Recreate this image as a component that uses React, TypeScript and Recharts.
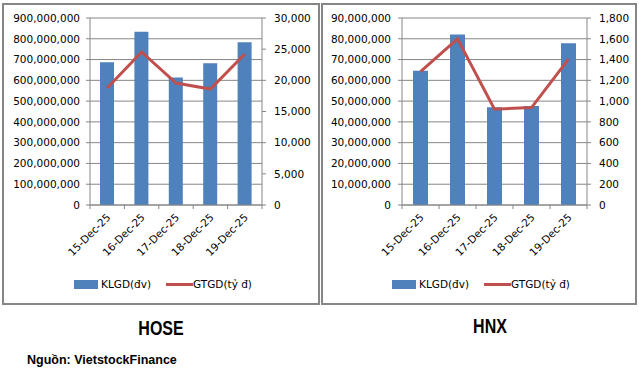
import React from 'react';
import { ComposedChart, Bar, Line, XAxis, YAxis, CartesianGrid, Legend } from 'recharts';

const dates = ['15-Dec-25', '16-Dec-25', '17-Dec-25', '18-Dec-25', '19-Dec-25'];

const hoseVolume = [687000000, 834000000, 614000000, 682000000, 783000000];
const hoseValue = [18760, 24550, 19560, 18600, 24230];

const hnxVolume = [64600000, 82000000, 47100000, 47600000, 77800000];
const hnxValue = [1285, 1600, 922, 938, 1405];

const hoseVolumeTicks = [0, 100000000, 200000000, 300000000, 400000000, 500000000, 600000000, 700000000, 800000000, 900000000];
const hoseValueTicks = [0, 5000, 10000, 15000, 20000, 25000, 30000];
const hnxVolumeTicks = [0, 10000000, 20000000, 30000000, 40000000, 50000000, 60000000, 70000000, 80000000, 90000000];
const hnxValueTicks = [0, 200, 400, 600, 800, 1000, 1200, 1400, 1600, 1800];

const BLUE = '#4f81bd';
const RED = '#c0504d';
const AXIS = '#868686';
const FONT = '"DejaVu Sans", sans-serif';

const fmt = (v: number) => v.toLocaleString('en-US');

const DateTick = (props: any) => {
  const { x, y, payload, width, visibleTicksCount, index } = props;
  const half = payload.offset || width / visibleTicksCount / 2;
  return (
    <g>
      <line x1={x - half} x2={x - half} y1={y} y2={y + 4} stroke={AXIS} />
      {index === visibleTicksCount - 1 && (
        <line x1={x + half} x2={x + half} y1={y} y2={y + 4} stroke={AXIS} />
      )}
      <text
        x={x + 4}
        y={y + 13}
        transform={`rotate(-45 ${x + 4} ${y + 13})`}
        textAnchor="end"
        fontSize={10.5}
        fontFamily={FONT}
        fill="#000"
      >
        {payload.value}
      </text>
    </g>
  );
};

// excel puts the bar entry first
const LegendContent = (props: any) => {
  const items = [...(props.payload || [])].sort((a: any, b: any) => (a.type === 'line' ? 1 : 0) - (b.type === 'line' ? 1 : 0));
  return (
    <div style={{ display: 'flex', justifyContent: 'center', alignItems: 'center', fontFamily: FONT, fontSize: 10.5, color: '#000', paddingLeft: 4 }}>
      {items.map((entry: any, i: number) => (
        <div key={i} style={{ display: 'flex', alignItems: 'center', marginRight: i === 0 ? 15 : 0 }}>
          {entry.type === 'line' ? (
            <span style={{ display: 'inline-block', width: 27, height: 3, background: RED }} />
          ) : (
            <span style={{ display: 'inline-block', width: 24, height: 9, background: BLUE, marginRight: 3 }} />
          )}
          <span>{entry.value}</span>
        </div>
      ))}
    </div>
  );
};

interface PanelProps {
  left: number;
  width: number;
  volume: number[];
  value: number[];
  volumeTicks: number[];
  valueTicks: number[];
  leftWidth: number;
  rightWidth: number;
  leftMargin: number;
  barSize: number;
}

const Panel: React.FC<PanelProps> = ({ left, width, volume, value, volumeTicks, valueTicks, leftWidth, rightWidth, leftMargin, barSize }) => {
  const data = dates.map((d, i) => ({ date: d, volume: volume[i], value: value[i] }));
  const tickStyle = { fontSize: 10.5, fontFamily: FONT, fill: '#000' };
  return (
    <div style={{ position: 'absolute', left, top: 3, width, height: 302 }}>
      <ComposedChart width={width} height={302} data={data} margin={{ top: 15, right: 0, bottom: 0, left: 0 }} barGap={0}>
        <CartesianGrid yAxisId="left" vertical={false} stroke={AXIS} />
        <XAxis dataKey="date" height={100} tickLine={false} tickSize={0} tickMargin={0} interval={0} axisLine={{ stroke: AXIS }} tick={<DateTick />} />
        <YAxis
          yAxisId="left"
          width={leftWidth}
          domain={[volumeTicks[0], volumeTicks[volumeTicks.length - 1]]}
          ticks={volumeTicks}
          tickFormatter={fmt}
          tick={tickStyle}
          tickSize={4}
          tickMargin={leftMargin}
          axisLine={{ stroke: AXIS }}
          tickLine={{ stroke: AXIS }}
          interval={0}
        />
        <YAxis
          yAxisId="right"
          orientation="right"
          width={rightWidth}
          domain={[valueTicks[0], valueTicks[valueTicks.length - 1]]}
          ticks={valueTicks}
          tickFormatter={fmt}
          tick={{ ...tickStyle, textAnchor: 'start' }}
          tickSize={4}
          tickMargin={8}
          axisLine={{ stroke: AXIS }}
          tickLine={{ stroke: AXIS }}
          interval={0}
        />
        <Legend
          verticalAlign="middle"
          align="center"
          layout="horizontal"
          content={<LegendContent />}
          wrapperStyle={{ top: 275, left: 0, width }}
        />
        <Bar yAxisId="left" dataKey="volume" name="KLGD(đv)" fill={BLUE} barSize={barSize} isAnimationActive={false} />
        <Line yAxisId="right" dataKey="value" name="GTGD(tỷ đ)" type="linear" stroke={RED} strokeWidth={3} dot={false} activeDot={false} isAnimationActive={false} legendType="line" />
      </ComposedChart>
      <div style={{ position: 'absolute', left: 0, top: 0, width, height: 302, boxSizing: 'border-box', border: `2px solid ${AXIS}`, pointerEvents: 'none' }} />
    </div>
  );
};

const titleStyle: React.CSSProperties = {
  position: 'absolute',
  width: 100,
  textAlign: 'center',
  fontFamily: '"Liberation Sans", Arial, sans-serif',
  fontSize: 19.5,
  lineHeight: '20px',
  fontWeight: 'bold',
  color: '#000',
  transform: 'scaleX(0.82)',
};

export default function App() {
  return (
    <div style={{ position: 'absolute', left: 0, top: 0, width: 639, height: 373, background: '#fff' }}>
      <Panel left={2} width={318} volume={hoseVolume} value={hoseValue} volumeTicks={hoseVolumeTicks} valueTicks={hoseValueTicks} leftWidth={88} rightWidth={58} leftMargin={6} barSize={14} />
      <Panel left={321} width={316} volume={hnxVolume} value={hnxValue} volumeTicks={hnxVolumeTicks} valueTicks={hnxValueTicks} leftWidth={81} rightWidth={50} leftMargin={7} barSize={15} />
      <div style={{ ...titleStyle, left: 111, top: 318 }}>HOSE</div>
      <div style={{ ...titleStyle, left: 440, top: 316 }}>HNX</div>
      <div style={{ position: 'absolute', left: 27, top: 353, fontFamily: '"Liberation Sans", sans-serif', fontSize: 12.5, lineHeight: '14px', fontWeight: 'bold', color: '#000' }}>Nguồn: VietstockFinance</div>
    </div>
  );
}
